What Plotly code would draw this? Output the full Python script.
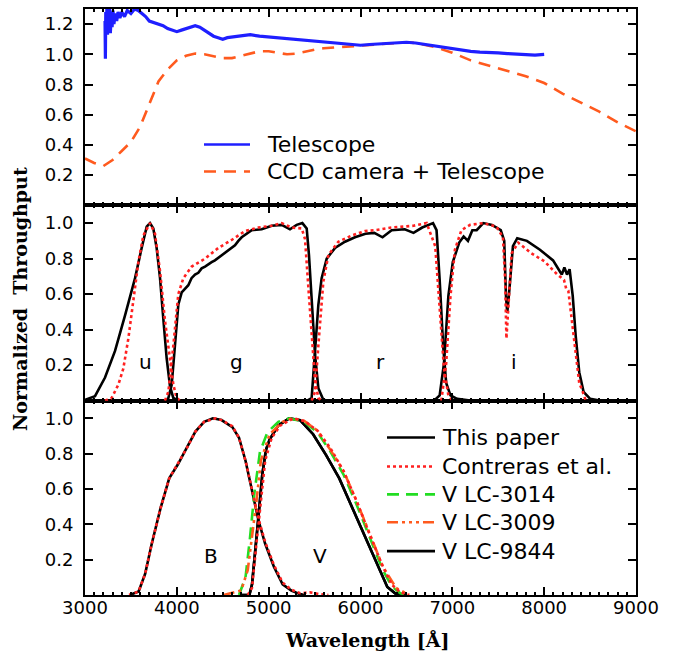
import plotly.graph_objects as go

# ---------------- data ----------------
tel_wl = [3218, 3222, 3226, 3232, 3238, 3245, 3252, 3260, 3268, 3276, 3285, 3295, 3305, 3315,
          3330, 3345, 3360, 3380, 3400, 3430, 3460, 3500, 3540, 3580, 3620, 3660, 3700, 3750,
          3800, 3850, 3900, 3950, 4000, 4050, 4100, 4150, 4200, 4250, 4300, 4350, 4400, 4450,
          4500, 4550, 4600, 4700, 4800, 4900, 5000, 5100, 5200, 5300, 5400, 5500, 5600, 5700,
          5800, 5900, 6000, 6100, 6200, 6300, 6400, 6500, 6600, 6700, 6800, 6900, 7000, 7100,
          7200, 7300, 7400, 7500, 7600, 7700, 7800, 7900, 8000]
tel_val = [1.22, 0.97, 1.28, 1.15, 1.30, 1.13, 1.27, 1.16, 1.30, 1.14, 1.25, 1.18, 1.29, 1.20,
           1.27, 1.22, 1.28, 1.24, 1.28, 1.25, 1.29, 1.27, 1.30, 1.29, 1.27, 1.25, 1.22, 1.21,
           1.20, 1.19, 1.17, 1.16, 1.15, 1.16, 1.17, 1.18, 1.19, 1.18, 1.16, 1.14, 1.12, 1.11,
           1.10, 1.11, 1.115, 1.125, 1.13, 1.12, 1.115, 1.11, 1.105, 1.10, 1.095, 1.09, 1.085, 1.08,
           1.07, 1.065, 1.06, 1.065, 1.07, 1.07, 1.075, 1.08, 1.075, 1.065, 1.055, 1.045, 1.035, 1.025,
           1.02, 1.015, 1.015, 1.01, 1.005, 1.0, 0.995, 0.995, 1.0]

ccd_wl = [3000, 3100, 3200, 3300, 3400, 3500, 3600, 3700, 3800, 3900, 4000, 4100, 4200, 4300,
          4400, 4500, 4600, 4700, 4800, 4900, 5000, 5100, 5200, 5300, 5400, 5500, 5600, 5800,
          6000, 6200, 6400, 6500, 6600, 6800, 7000, 7200, 7400, 7600, 7800, 8000, 8200, 8400,
          8600, 8800, 9000]
ccd_val = [0.31, 0.28, 0.26, 0.30, 0.36, 0.42, 0.52, 0.67, 0.82, 0.90, 0.96, 0.99, 1.005, 1.0,
           0.99, 0.975, 0.975, 0.99, 1.005, 1.02, 1.02, 1.01, 1.0, 1.005, 1.02, 1.03, 1.04, 1.05,
           1.055, 1.065, 1.075, 1.08, 1.075, 1.05, 1.01, 0.96, 0.925, 0.89, 0.855, 0.81, 0.74, 0.68,
           0.62, 0.55, 0.49]

u_wl = [3000, 3109, 3218, 3327, 3436, 3545, 3617, 3672, 3708, 3744, 3780, 3817, 3853, 3889, 3926, 3962, 4016, 4100]
u_val = [0.005, 0.025, 0.13, 0.28, 0.48, 0.69, 0.86, 0.98, 1.0, 0.97, 0.86, 0.69, 0.46, 0.24, 0.08, 0.015, 0.0, 0.0]
u_c_wl = [3218, 3290, 3363, 3417, 3472, 3526, 3581, 3635, 3708, 3762, 3817, 3871, 3926, 3962, 3998, 4035]
u_c_val = [0.0, 0.015, 0.09, 0.18, 0.35, 0.56, 0.78, 0.93, 1.0, 0.94, 0.73, 0.45, 0.22, 0.09, 0.015, 0.0]

g_wl = [3870, 3908, 3944, 3980, 4016, 4053, 4090, 4125, 4160, 4198, 4234, 4270, 4307, 4343, 4379,
        4415, 4452, 4488, 4524, 4560, 4597, 4633, 4670, 4706, 4815, 4924, 5033, 5142, 5232, 5305,
        5367, 5414, 5439, 5468, 5505, 5541, 5595, 5650]
g_val = [0.0, 0.015, 0.09, 0.31, 0.54, 0.61, 0.63, 0.65, 0.69, 0.71, 0.72, 0.745, 0.755, 0.77, 0.78,
         0.79, 0.805, 0.82, 0.835, 0.845, 0.86, 0.875, 0.90, 0.92, 0.96, 0.965, 0.985, 0.99, 0.965, 0.99,
         1.0, 0.97, 0.82, 0.54, 0.26, 0.07, 0.005, 0.0]
g_c_wl = [3870, 3908, 3962, 4016, 4071, 4162, 4307, 4452, 4597, 4742, 4888, 5033, 5142, 5251, 5360,
          5396, 5432, 5468, 5505, 5541, 5577]
g_c_val = [0.0, 0.05, 0.31, 0.60, 0.69, 0.755, 0.80, 0.86, 0.905, 0.955, 0.975, 0.985, 1.0, 0.975, 0.97,
           0.91, 0.64, 0.35, 0.11, 0.015, 0.0]

r_wl = [5420, 5468, 5505, 5541, 5577, 5632, 5723, 5831, 5940, 6054, 6150, 6240, 6339, 6482, 6577,
        6672, 6790, 6828, 6862, 6900, 6933, 6980, 7052, 7194]
r_val = [0.0, 0.015, 0.28, 0.54, 0.69, 0.80, 0.86, 0.895, 0.92, 0.94, 0.945, 0.92, 0.96, 0.965, 0.945,
         0.975, 1.0, 0.96, 0.68, 0.31, 0.10, 0.03, 0.01, 0.0]
r_c_wl = [5468, 5505, 5541, 5595, 5650, 5759, 5904, 6049, 6158, 6339, 6577, 6720, 6814, 6862, 6909, 6957, 7005]
r_c_val = [0.0, 0.05, 0.31, 0.67, 0.82, 0.895, 0.93, 0.955, 0.96, 0.975, 0.985, 1.0, 0.87, 0.50, 0.18, 0.03, 0.0]

i_wl = [6800, 6862, 6909, 6957, 7005, 7075, 7123, 7170, 7218, 7265, 7337, 7432, 7527, 7565, 7584,
        7598, 7622, 7660, 7707, 7812, 7954, 8097, 8168, 8192, 8220, 8249, 8277, 8311, 8344, 8382,
        8429, 8501, 8619, 9000]
i_val = [0.0, 0.03, 0.21, 0.59, 0.78, 0.89, 0.925, 0.90, 0.96, 0.96, 1.0, 0.99, 0.96, 0.90, 0.59,
         0.495, 0.63, 0.87, 0.915, 0.90, 0.85, 0.79, 0.73, 0.71, 0.75, 0.71, 0.74, 0.59, 0.36, 0.16,
         0.05, 0.01, 0.0, 0.0]
i_c_wl = [6880, 6933, 6980, 7028, 7099, 7194, 7337, 7480, 7551, 7575, 7589, 7608, 7646, 7717, 7860,
          8002, 8144, 8216, 8240, 8263, 8325, 8382, 8420, 8453]
i_c_val = [0.0, 0.21, 0.59, 0.85, 0.96, 0.99, 1.0, 0.98, 0.92, 0.68, 0.35, 0.53, 0.83, 0.89, 0.83,
           0.785, 0.71, 0.68, 0.63, 0.62, 0.35, 0.10, 0.05, 0.0]

B_wl = [3489, 3513, 3584, 3655, 3727, 3822, 3917, 4012, 4107, 4202, 4297, 4392, 4487, 4605, 4677,
        4748, 4819, 4890, 4962, 5057, 5152, 5247, 5342, 5389]
B_val = [0.0, 0.005, 0.02, 0.12, 0.29, 0.49, 0.66, 0.74, 0.83, 0.925, 0.98, 1.0, 0.99, 0.95, 0.89,
         0.76, 0.59, 0.42, 0.29, 0.16, 0.06, 0.025, 0.005, 0.0]
B_c_wl = [3480, 3513, 3584, 3655, 3727, 3822, 3917, 4012, 4107, 4202, 4297, 4420, 4487, 4605, 4677,
          4748, 4819, 4890, 4962, 5057, 5152, 5247, 5342, 5450, 5550, 5650]
B_c_val = [0.0, 0.005, 0.02, 0.12, 0.29, 0.49, 0.66, 0.745, 0.83, 0.925, 0.98, 1.0, 0.99, 0.955, 0.89,
           0.76, 0.60, 0.43, 0.30, 0.17, 0.07, 0.03, 0.01, 0.015, 0.005, 0.0]

V_wl = [4700, 4790, 4819, 4850, 4890, 4930, 4970, 5010, 5105, 5223, 5342, 5484, 5627, 5769, 5912,
        6054, 6197, 6292, 6387, 6500]
V_val = [0.0, 0.0, 0.06, 0.25, 0.45, 0.68, 0.82, 0.88, 0.96, 1.0, 0.99, 0.91, 0.79, 0.66, 0.49,
         0.32, 0.15, 0.045, 0.005, 0.0]
V_c_wl = [4772, 4819, 4867, 4915, 4962, 5033, 5128, 5271, 5389, 5532, 5674, 5817, 5959, 6102, 6244,
          6339, 6434, 6529]
V_c_val = [0.0, 0.04, 0.29, 0.53, 0.76, 0.89, 0.96, 1.0, 0.985, 0.93, 0.83, 0.70, 0.53, 0.34, 0.16,
           0.06, 0.015, 0.0]
V3014_wl = [4677, 4748, 4796, 4843, 4905, 4986, 5105, 5223, 5389, 5532, 5674, 5817, 5959, 6102, 6244,
            6339, 6434, 6500]
V3014_val = [0.0, 0.10, 0.32, 0.57, 0.81, 0.92, 0.98, 1.0, 0.98, 0.92, 0.81, 0.68, 0.51, 0.32, 0.14,
             0.05, 0.01, 0.0]
V3009_wl = [4510, 4700, 4772, 4819, 4867, 4915, 5010, 5152, 5256, 5389, 5532, 5674, 5817, 5959, 6102,
            6244, 6387, 6529]
V3009_val = [0.0, 0.025, 0.14, 0.32, 0.53, 0.76, 0.91, 0.98, 1.0, 0.985, 0.93, 0.82, 0.70, 0.53, 0.34,
             0.16, 0.04, 0.0]
V9844_wl = V_wl
V9844_val = V_val

band_labels_mid = ["u", "g", "r", "i"]
band_pos_mid = [3655, 4653, 6221, 7669]
band_labels_bot = ["B", "V"]
band_pos_bot = [4377, 5555]
band_label_y = 0.22

xticks = [3000, 4000, 5000, 6000, 7000, 8000, 9000]
yticks_top = [0.2, 0.4, 0.6, 0.8, 1.0, 1.2]
yticks_low = [0.2, 0.4, 0.6, 0.8, 1.0]

top_legend = ["Telescope", "CCD camera + Telescope"]
bot_legend = ["This paper", "Contreras et al.", "V LC-3014", "V LC-3009", "V LC-9844"]

# ---------------- styles ----------------
BLUE = "#1f1fff"
ORANGE = "#ff5a1e"
RED = "#ff2020"
GREEN = "#22dd22"
BLACK = "#000000"
LW = 2.6
DOT = "3px,3px"
DASH_CCD = "12px,8px"
DASH_GREEN = "12px,7px"
DASH_3DOT = "11px,4px,3px,4px,3px,4px,3px,4px"

SANS = "DejaVu Sans"
TICKFONT = dict(family=SANS, size=18, color="black")
TITLEFONT = dict(family="DejaVu Serif", size=19, color="black")
LEGFONT = dict(family=SANS, size=22, color="black")
BANDFONT = dict(family=SANS, size=20, color="black")

fig = go.Figure()

def line(x, y, color, dash="solid", ax="", width=LW):
    fig.add_trace(go.Scatter(x=x, y=y, mode="lines", xaxis="x" + ax, yaxis="y" + ax,
                             line=dict(color=color, width=width, dash=dash),
                             showlegend=False, hoverinfo="skip"))

# top panel (axis 3)
line(ccd_wl, ccd_val, ORANGE, DASH_CCD, "3")
line(tel_wl, tel_val, BLUE, "solid", "3", width=3.2)

# middle panel (axis 2)
for wl, v in [(u_wl, u_val), (g_wl, g_val), (r_wl, r_val), (i_wl, i_val)]:
    line(wl, v, BLACK, "solid", "2")
for wl, v in [(u_c_wl, u_c_val), (g_c_wl, g_c_val), (r_c_wl, r_c_val), (i_c_wl, i_c_val)]:
    line(wl, v, RED, DOT, "2")

# bottom panel (axis 1)
line(B_wl, B_val, BLACK, "solid", "")
line(V_wl, V_val, BLACK, "solid", "")
line(V9844_wl, V9844_val, BLACK, "solid", "")
line(V3014_wl, V3014_val, GREEN, DASH_GREEN, "")
line(V3009_wl, V3009_val, ORANGE, DASH_3DOT, "")
line(B_c_wl, B_c_val, RED, DOT, "")
line(V_c_wl, V_c_val, RED, DOT, "")

# ---------------- layout ----------------
W, H = 682, 655
ML, MR, MT, MB = 85, 46, 7, 60
PH = H - MT - MB  # 588
PW = W - ML - MR
d_bot = [0, 195 / PH]
d_mid = [195 / PH, 391 / PH]
d_top = [391 / PH, 1]

def xax(anchor, labels):
    return dict(range=[3000, 9000], anchor=anchor, tickvals=xticks,
                showticklabels=labels, ticks="inside", ticklen=8, tickwidth=2,
                tickcolor="black", showline=True, linewidth=2, linecolor="black",
                mirror="allticks", showgrid=False, zeroline=False, tickfont=TICKFONT,
                minor=dict(dtick=100, ticks="inside", ticklen=3, tickwidth=1.5,
                           tickcolor="black", showgrid=False),
                ticklabelstandoff=-5)

def yax(anchor, dom, rng, tv):
    return dict(domain=dom, range=rng, anchor=anchor, tickvals=tv,
                ticktext=["%.1f" % t for t in tv],
                ticks="inside", ticklen=8, tickwidth=2, tickcolor="black",
                showline=True, linewidth=2, linecolor="black", mirror="allticks",
                showgrid=False, zeroline=False, tickfont=TICKFONT, ticklabelstandoff=6)

def px(xx): return (xx - ML) / PW
def py(yy): return (595 - yy) / PH

annotations = []
for lab, xp in zip(band_labels_mid, band_pos_mid):
    annotations.append(dict(x=xp, y=band_label_y, xref="x2", yref="y2", text=lab, showarrow=False,
                            xanchor="center", yanchor="middle", font=BANDFONT))
for lab, xp in zip(band_labels_bot, band_pos_bot):
    annotations.append(dict(x=xp, y=band_label_y, xref="x", yref="y", text=lab, showarrow=False,
                            xanchor="center", yanchor="middle", font=BANDFONT))

# axis titles
annotations.append(dict(x=px(20), y=py(298), xref="paper", yref="paper",
                        text="<b>Normalized  Throughput</b>", textangle=-90, showarrow=False,
                        xanchor="center", yanchor="middle", font=TITLEFONT))
annotations.append(dict(x=px(367), y=py(640), xref="paper", yref="paper",
                        text="<b>Wavelength [Å]</b>", showarrow=False,
                        xanchor="center", yanchor="middle", font=TITLEFONT))

# legends drawn as sample lines + text (paper coords)
shapes = []
top_styles = [(BLUE, "solid"), (ORANGE, DASH_CCD)]
top_rows = [143, 170]
for (col, dsh), name, yy in zip(top_styles, top_legend, top_rows):
    shapes.append(dict(type="line", xref="paper", yref="paper", x0=px(204), x1=px(250),
                       y0=py(yy), y1=py(yy), line=dict(color=col, width=LW, dash=dsh)))
    annotations.append(dict(x=px(265), y=py(yy), xref="paper", yref="paper", text=name,
                            xanchor="left", yanchor="middle", showarrow=False, font=LEGFONT))
bot_styles = [(BLACK, "solid"), (RED, DOT), (GREEN, DASH_GREEN), (ORANGE, DASH_3DOT), (BLACK, "solid")]
bot_rows = [437, 466, 494, 522, 551]
for (col, dsh), name, yy in zip(bot_styles, bot_legend, bot_rows):
    shapes.append(dict(type="line", xref="paper", yref="paper", x0=px(387), x1=px(435),
                       y0=py(yy), y1=py(yy), line=dict(color=col, width=LW, dash=dsh)))
    annotations.append(dict(x=px(440), y=py(yy), xref="paper", yref="paper", text=name,
                            xanchor="left", yanchor="middle", showarrow=False, font=LEGFONT))

fig.update_layout(
    width=W, height=H, margin=dict(l=ML, r=MR, t=MT, b=MB),
    paper_bgcolor="white", plot_bgcolor="white", showlegend=False,
    xaxis=xax("y", True), xaxis2=xax("y2", False), xaxis3=xax("y3", False),
    yaxis=yax("x", d_bot, [0, 1.1], yticks_low),
    yaxis2=yax("x2", d_mid, [0, 1.1], yticks_low),
    yaxis3=yax("x3", d_top, [0, 1.3], yticks_top),
    annotations=annotations, shapes=shapes,
)
fig.update_layout(xaxis2=dict(matches="x"), xaxis3=dict(matches="x"))

fig.write_html("out.html", config={"displayModeBar": False},
               post_script="document.body.style.margin='0px';document.body.style.overflow='hidden';")
